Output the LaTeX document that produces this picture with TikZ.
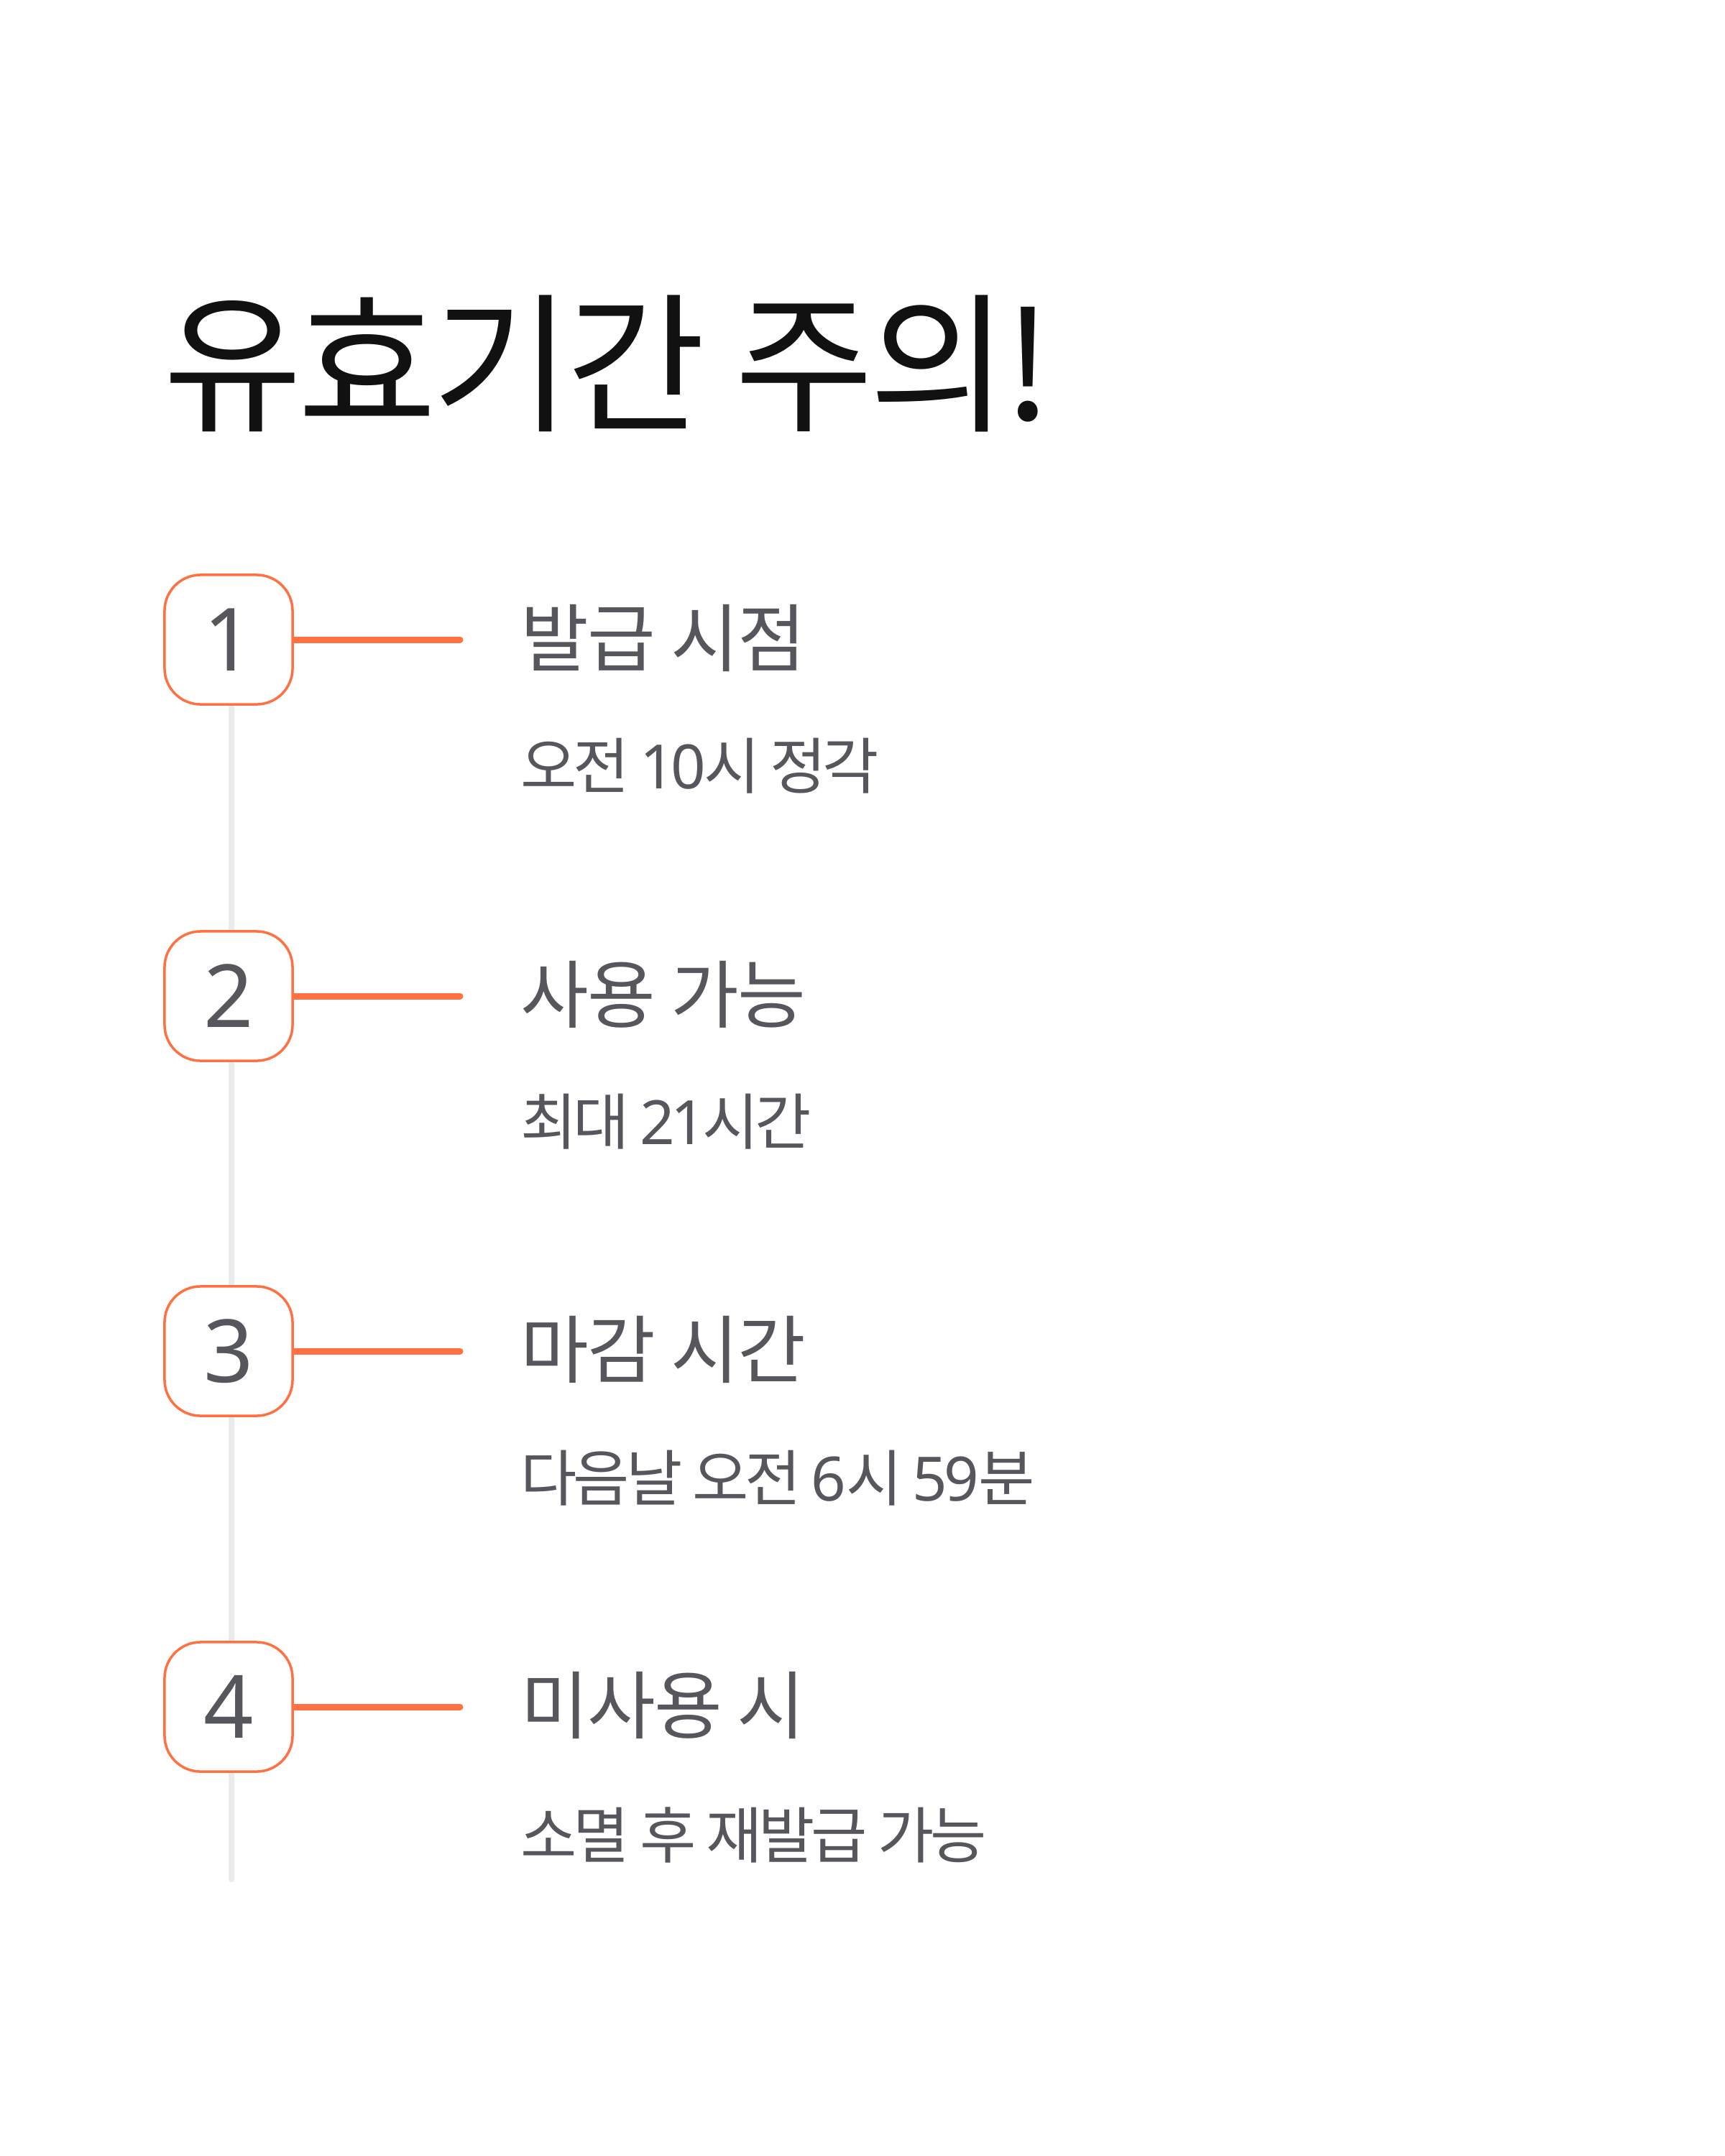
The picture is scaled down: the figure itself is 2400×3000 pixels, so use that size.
\documentclass[tikz,border=0pt]{standalone}
\usepackage{fontspec}
\setmainfont{Noto Sans CJK KR}
\newfontfamily\digfont{Noto Sans}
\newfontfamily\subdigfont{Noto Sans}[LetterSpace=-6]
\newcommand{\sd}[1]{{\subdigfont #1}}
\definecolor{inkblack}{HTML}{111111}
\definecolor{txtgray}{HTML}{55575C}
\definecolor{accent}{HTML}{FF7043}
\definecolor{rail}{HTML}{EBEBEB}
\pgfdeclarelayer{bg}\pgfsetlayers{bg,main}
\begin{document}
\begin{tikzpicture}[x=0.01cm,y=-0.01cm,
  badge/.style={draw=accent, line width=0.035cm, fill=white, rounded corners=0.5cm,
    minimum width=1.78cm, minimum height=1.8cm, inner sep=0pt, text=txtgray,
    font=\digfont\fontsize{34.5}{40}\selectfont},
  headtxt/.style={anchor=west, inner sep=0pt, text=txtgray,
    font=\fontsize{29.3}{34}\selectfont\addfontfeatures{LetterSpace=-2}},
  subtxt/.style={anchor=west, inner sep=0pt, text=txtgray,
    font=\fontsize{24.2}{28}\selectfont\addfontfeatures{LetterSpace=-6}},
  titletxt/.style={anchor=west, inner sep=0pt, text=inkblack,
    font=\fontsize{59.7}{66}\selectfont\addfontfeatures{LetterSpace=-3}},
  connector/.style={draw=accent, line width=0.09cm, line cap=round},
  railline/.style={draw=rail, line width=0.08cm, line cap=round}
]
\useasboundingbox (0,0) rectangle (2400,3000);
\node[titletxt] (title) at (227,506) {유효기간 주의!};

\node[badge] (b1) at (318,890) {1};
\node[badge] (b2) at (318,1386) {2};
\node[badge] (b3) at (318,1880) {3};
\node[badge] (b4) at (318,2375) {4};

\coordinate (e1) at (640,890);
\coordinate (e2) at (640,1386);
\coordinate (e3) at (640,1880);
\coordinate (e4) at (640,2375);
\coordinate (railend) at (322,2615);
\coordinate (railstart) at (322,890);

\node[headtxt] (h1) at (724,888) {발급 시점};
\node[subtxt] (s1) at (724,1066) {오전 \sd{10}\kern-0.04em 시 정각};
\node[headtxt] (h2) at (724,1384) {사용 가능};
\node[subtxt] (s2) at (724,1561) {최대 \sd{21}\kern-0.06em 시간};
\node[headtxt] (h3) at (724,1878) {마감 시간};
\node[subtxt] (s3) at (724,2057) {다음날 오전 \sd{6}시 \sd{59}분};
\node[headtxt] (h4) at (724,2373) {미사용 시};
\node[subtxt] (s4) at (724,2553) {소멸 후 재발급 가능};

\begin{pgfonlayer}{bg}
\draw[railline] (railstart) -- (railend);
\draw[connector] (b1.east) -- (e1);
\draw[connector] (b2.east) -- (e2);
\draw[connector] (b3.east) -- (e3);
\draw[connector] (b4.east) -- (e4);
\end{pgfonlayer}
\end{tikzpicture}
\end{document}
